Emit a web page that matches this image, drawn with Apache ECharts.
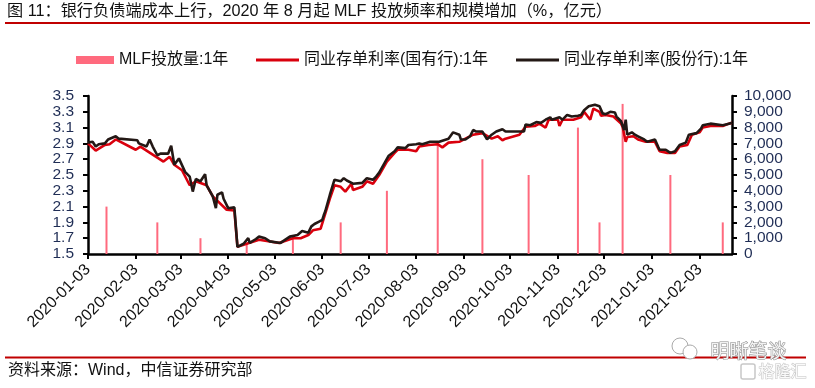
<!DOCTYPE html>
<html>
<head>
<meta charset="utf-8">
<script src="https://cdn.jsdelivr.net/npm/echarts@6/dist/echarts.min.js"></script>
<style>
html,body{margin:0;padding:0;background:#fff;}
#c{width:815px;height:388px;}
</style>
</head>
<body>
<div id="c"></div>
<script>
// ---------------- data ----------------
const tickLabels = ['2020-01-03','2020-02-03','2020-03-03','2020-04-03','2020-05-03','2020-06-03','2020-07-03','2020-08-03','2020-09-03','2020-10-03','2020-11-03','2020-12-03','2021-01-03','2021-02-03'];
const axisStart = '2020-01-03';
const axisEnd = '2021-02-24';

const mlfDates = ['2020-01-15','2020-02-17','2020-03-16','2020-04-15','2020-05-15','2020-06-15','2020-07-15','2020-08-17','2020-09-15','2020-10-15','2020-11-16','2020-11-30','2020-12-15','2021-01-15','2021-02-18'];
const mlfValues = [3000,2000,1000,700,1000,2000,4000,7000,6000,5000,8000,2000,9500,5000,2000];

const redDates = ['2020-01-03','2020-01-08','2020-01-14','2020-01-17','2020-01-21','2020-02-03','2020-02-06','2020-02-21','2020-02-25','2020-02-28',
 '2020-03-04','2020-03-09','2020-03-13','2020-03-20','2020-03-24','2020-04-02','2020-04-07','2020-04-09','2020-04-15','2020-04-23',
 '2020-05-06','2020-05-15','2020-05-20','2020-05-25','2020-05-28','2020-06-02','2020-06-05','2020-06-08','2020-06-11','2020-06-15',
 '2020-06-18','2020-06-22','2020-06-23','2020-06-29','2020-07-02','2020-07-06','2020-07-10','2020-07-15','2020-07-20','2020-07-22',
 '2020-07-29','2020-08-03','2020-08-05','2020-08-11','2020-08-17','2020-08-20','2020-08-24','2020-08-31','2020-09-04','2020-09-09',
 '2020-09-15','2020-09-21','2020-09-25','2020-09-28','2020-09-30','2020-10-09','2020-10-13','2020-10-19','2020-10-22','2020-10-26',
 '2020-10-28','2020-11-03','2020-11-04','2020-11-06','2020-11-13','2020-11-18','2020-11-20','2020-11-24','2020-11-26','2020-11-30',
 '2020-12-01','2020-12-04','2020-12-09','2020-12-14','2020-12-15','2020-12-17','2020-12-18','2020-12-22','2020-12-25','2020-12-30',
 '2021-01-05','2021-01-08','2021-01-13','2021-01-18','2021-01-21','2021-01-26','2021-01-29','2021-02-03','2021-02-05','2021-02-10',
 '2021-02-18','2021-02-22','2021-02-24'];
const redValues = [2.90,2.81,2.88,2.89,2.95,2.82,2.86,2.67,2.73,2.63,
 2.56,2.37,2.42,2.37,2.23,2.06,2.05,1.59,1.63,1.68,
 1.64,1.70,1.70,1.74,1.80,1.82,2.01,2.20,2.37,2.35,
 2.29,2.39,2.31,2.35,2.42,2.39,2.50,2.67,2.78,2.82,
 2.82,2.80,2.86,2.88,2.89,2.85,2.91,2.92,2.96,3.01,
 3.03,2.96,2.99,2.94,2.96,3.01,3.11,3.12,3.15,3.10,
 3.20,3.20,3.12,3.20,3.20,3.23,3.30,3.20,3.34,3.30,
 3.25,3.26,3.24,3.15,3.11,2.92,2.98,2.99,2.95,2.92,
 2.92,2.80,2.78,2.78,2.86,2.88,3.01,3.04,3.10,3.12,
 3.12,3.15,3.16];

const blackDates = ['2020-01-03','2020-01-06','2020-01-08','2020-01-10','2020-01-14','2020-01-16','2020-01-17','2020-01-21','2020-01-23','2020-02-04',
 '2020-02-05','2020-02-10','2020-02-12','2020-02-14','2020-02-17','2020-02-19','2020-02-24','2020-02-26','2020-02-28','2020-03-02',
 '2020-03-03','2020-03-06','2020-03-09','2020-03-11','2020-03-13','2020-03-16','2020-03-19','2020-03-20','2020-03-24','2020-03-26',
 '2020-03-27','2020-03-30','2020-03-31','2020-04-03','2020-04-07','2020-04-08','2020-04-09','2020-04-13','2020-04-14','2020-04-16',
 '2020-04-17','2020-04-21','2020-04-23','2020-04-27','2020-04-30','2020-05-07','2020-05-13','2020-05-18','2020-05-21','2020-05-25',
 '2020-05-27','2020-05-29','2020-06-01','2020-06-03','2020-06-04','2020-06-05','2020-06-08','2020-06-11','2020-06-15','2020-06-17',
 '2020-06-19','2020-06-23','2020-06-29','2020-07-02','2020-07-06','2020-07-08','2020-07-10','2020-07-14','2020-07-16','2020-07-20',
 '2020-07-22','2020-07-27','2020-07-29','2020-08-03','2020-08-05','2020-08-07','2020-08-12','2020-08-18','2020-08-21','2020-08-24',
 '2020-08-27','2020-08-31','2020-09-01','2020-09-04','2020-09-07','2020-09-09','2020-09-11','2020-09-15','2020-09-18','2020-09-21',
 '2020-09-24','2020-09-28','2020-09-30','2020-10-12','2020-10-13','2020-10-16','2020-10-20','2020-10-23','2020-10-26','2020-10-29',
 '2020-10-30','2020-11-04','2020-11-06','2020-11-09','2020-11-12','2020-11-16','2020-11-18','2020-11-20','2020-11-23','2020-11-27',
 '2020-11-30','2020-12-02','2020-12-04','2020-12-07','2020-12-10','2020-12-11','2020-12-14','2020-12-16','2020-12-17','2020-12-18',
 '2020-12-21','2020-12-23','2020-12-25','2020-12-29','2020-12-31','2021-01-05','2021-01-07','2021-01-08','2021-01-12','2021-01-15',
 '2021-01-18','2021-01-21','2021-01-25','2021-01-27','2021-02-01','2021-02-04','2021-02-05','2021-02-10','2021-02-18','2021-02-22',
 '2021-02-24'];
const blackValues = [2.91,2.92,2.86,2.89,2.90,2.95,2.94,2.99,2.96,2.94,
 2.90,2.86,2.95,2.86,2.75,2.77,2.77,2.87,2.63,2.71,
 2.69,2.54,2.48,2.29,2.45,2.42,2.51,2.37,2.23,2.08,
 2.25,2.28,2.20,2.08,2.09,2.08,1.59,1.63,1.64,1.70,
 1.64,1.69,1.72,1.70,1.66,1.64,1.72,1.74,1.79,1.77,
 1.85,1.88,1.91,1.93,1.99,2.04,2.25,2.44,2.42,2.46,
 2.43,2.39,2.40,2.46,2.44,2.48,2.53,2.67,2.74,2.80,
 2.85,2.84,2.88,2.89,2.90,2.89,2.92,2.92,2.94,2.96,
 3.04,3.01,2.95,2.95,2.99,3.07,3.05,3.05,2.95,3.01,
 3.05,3.08,3.05,3.05,3.14,3.13,3.17,3.16,3.20,3.23,
 3.20,3.23,3.20,3.26,3.24,3.25,3.26,3.32,3.37,3.39,
 3.37,3.28,3.27,3.30,3.29,3.24,3.18,3.07,3.20,3.01,
 3.04,3.01,2.99,2.95,2.92,2.95,2.86,2.82,2.82,2.78,
 2.80,2.88,2.91,3.01,3.03,3.09,3.13,3.15,3.13,3.15,
 3.16];

const nameMLF = 'MLF投放量:1年';
const nameRed = '同业存单利率(国有行):1年';
const nameBlack = '同业存单利率(股份行):1年';

// ---------------- chart ----------------
function toTime(s){ const p = s.split('-'); return new Date(+p[0], +p[1]-1, +p[2]).getTime(); }
function pad(n){ return (n<10?'0':'')+n; }
function fmtDate(t){ const d = new Date(t); return d.getFullYear()+'-'+pad(d.getMonth()+1)+'-'+pad(d.getDate()); }

const FONT = "'Liberation Sans', Arial, 'Noto Sans CJK SC', sans-serif";
const tickTimes = tickLabels.map(toTime);

const chart = echarts.init(document.getElementById('c'), null, {renderer:'canvas'});
const legendBase = {
  orient:'horizontal', padding:0, selectedMode:false, icon:'rect', itemGap:0,
  textStyle:{fontSize:16, color:'#111', fontFamily:FONT}
};
chart.setOption({
  animation:false,
  backgroundColor:'#fff',
  grid:{left:88, right:83, top:96, bottom:134, containLabel:false},
  legend:[
    Object.assign({}, legendBase, {data:[nameMLF], left:76, top:52, itemWidth:38, itemHeight:8}),
    Object.assign({}, legendBase, {data:[nameRed], left:256, top:52, itemWidth:43, itemHeight:3}),
    Object.assign({}, legendBase, {data:[nameBlack], left:516, top:52, itemWidth:43, itemHeight:3})
  ],
  xAxis:{
    type:'value',
    min:toTime(axisStart), max:toTime(axisEnd),
    axisLine:{show:true, onZero:false, lineStyle:{color:'#000', width:2.5}},
    axisTick:{show:true, length:5, lineStyle:{color:'#000', width:2}, customValues:tickTimes},
    axisLabel:{show:true, rotate:45, margin:13, fontSize:16, color:'#111', fontFamily:FONT,
      customValues:tickTimes, showMinLabel:true, showMaxLabel:true, hideOverlap:false,
      formatter:function(v){ return fmtDate(v); }},
    splitLine:{show:false}
  },
  yAxis:[
    {type:'value', min:1.5, max:3.5, interval:0.2, position:'left',
     axisLine:{show:true, lineStyle:{color:'#000', width:2.5}},
     axisTick:{show:true, length:5, lineStyle:{color:'#000', width:2}},
     axisLabel:{margin:14, fontSize:15.5, color:'#1f2d55', fontFamily:FONT, showMinLabel:true, showMaxLabel:true, hideOverlap:false,
       formatter:function(v){return v.toFixed(1);}},
     splitLine:{show:false}},
    {type:'value', min:0, max:10000, interval:1000, position:'right',
     axisLine:{show:true, lineStyle:{color:'#000', width:2.5}},
     axisTick:{show:true, length:5, lineStyle:{color:'#000', width:2}},
     axisLabel:{margin:12, fontSize:15.5, color:'#1f2d55', fontFamily:FONT, showMinLabel:true, showMaxLabel:true, hideOverlap:false,
       formatter:function(v){return v.toLocaleString('en-US');}},
     splitLine:{show:false}}
  ],
  series:[
    {name:nameMLF, type:'bar', yAxisIndex:1, barWidth:2, itemStyle:{color:'#ff6a7e'},
     data:mlfDates.map(function(d,i){return [toTime(d), mlfValues[i]];})},
    {name:nameRed, type:'line', yAxisIndex:0, symbol:'none', showSymbol:false, lineStyle:{color:'#d9000d', width:2.6}, itemStyle:{color:'#d9000d'},
     data:redDates.map(function(d,i){return [toTime(d), redValues[i]];})},
    {name:nameBlack, type:'line', yAxisIndex:0, symbol:'none', showSymbol:false, lineStyle:{color:'#231815', width:2.6}, itemStyle:{color:'#231815'},
     data:blackDates.map(function(d,i){return [toTime(d), blackValues[i]];})}
  ],
  graphic:[
    {type:'text', left:7, top:3, style:{text:'图 11：银行负债端成本上行，2020 年 8 月起 MLF 投放频率和规模增加（%，亿元）', fill:'#111', font:"16.2px 'Liberation Sans', 'Noto Sans CJK SC', sans-serif"}},
    {type:'rect', shape:{x:5, y:22, width:805, height:2}, style:{fill:'#c00000'}},
    {type:'rect', shape:{x:5, y:356.5, width:801, height:2}, style:{fill:'#c00000'}},
    {type:'text', left:8, top:363, style:{text:'资料来源：Wind，中信证券研究部', fill:'#111', font:"16px 'Liberation Sans', 'Noto Sans CJK SC', sans-serif"}},
    {type:'circle', shape:{cx:680, cy:346, r:8}, style:{fill:'none', stroke:'#aaa', lineWidth:1}},
    {type:'circle', shape:{cx:690, cy:352, r:7}, style:{fill:'#fff', stroke:'#aaa', lineWidth:1}},
    {type:'text', left:710, top:341, style:{text:'明晰笔谈', fill:'#f2f2f2', stroke:'#8a8a8a', lineWidth:1, font:"19px 'Noto Sans CJK SC', sans-serif"}},
    {type:'rect', shape:{x:741, y:364, width:14, height:15, r:2}, style:{fill:'none', stroke:'#c8c8c8', lineWidth:1.5}},
    {type:'text', left:758, top:362, style:{text:'格隆汇', fill:'#fafafa', stroke:'#c4c4c4', lineWidth:1, font:"16px 'Noto Sans CJK SC', sans-serif"}}
  ]
});
</script>
</body>
</html>
